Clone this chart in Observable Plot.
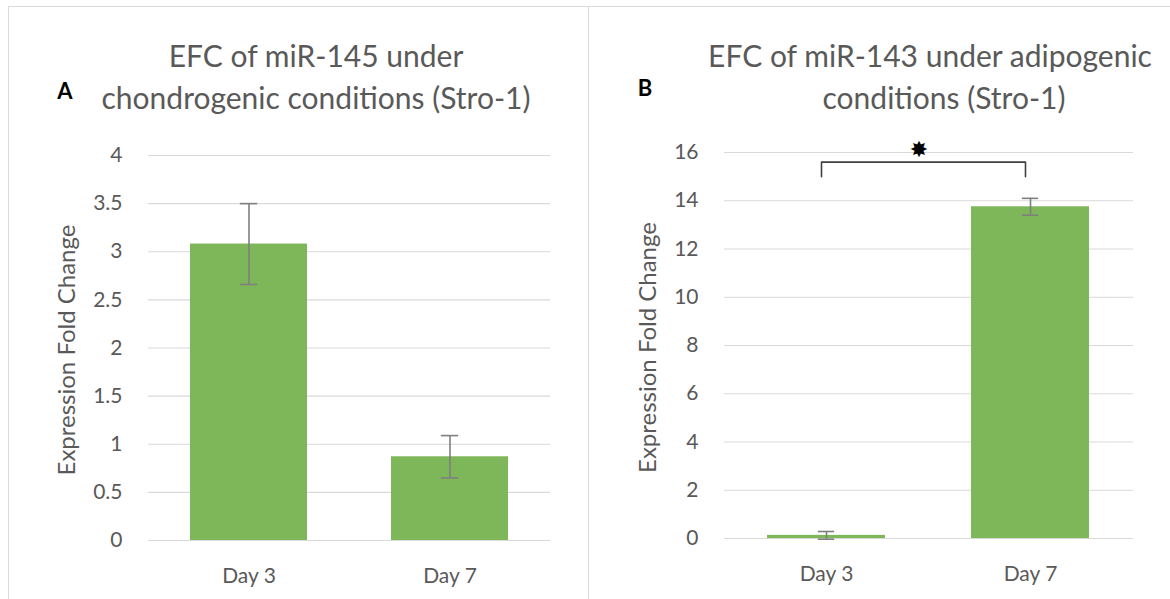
<!DOCTYPE html>
<html><head><meta charset="utf-8">
<script src="https://cdn.jsdelivr.net/npm/d3@7"></script>
<script src="https://cdn.jsdelivr.net/npm/@observablehq/plot@0.6"></script>
<style>
body{margin:0;background:#fff;font-family:Lato,sans-serif;}
#wrap{position:relative;width:1170px;height:599px;overflow:hidden;background:#fff;}
.panel{position:absolute;top:6px;border:1px solid #d9d9d9;box-sizing:border-box;}
.title{position:absolute;color:#595959;font-size:30px;line-height:42px;white-space:nowrap;transform:translateX(-50%);}
.letter{position:absolute;font-weight:bold;font-size:22px;line-height:26px;color:#000;transform:translateX(-50%);}
.chart{position:absolute;top:120px;}
</style></head>
<body><div id="wrap">
<div class="panel" style="left:8px;width:581px;height:620px"></div>
<div class="panel" style="left:588px;width:600px;height:620px"></div>
<div class="title" style="left:316px;top:34px">EFC of miR-145 under</div>
<div class="title" style="left:316px;top:76px">chondrogenic conditions (Stro-1)</div>
<div class="letter" style="left:65px;top:78px">A</div>
<div class="title" style="left:930px;top:34px">EFC of miR-143 under adipogenic</div>
<div class="title" style="left:944px;top:76px">conditions (Stro-1)</div>
<div class="letter" style="left:645px;top:75px">B</div>
<div class="chart" id="chartA" style="left:8px"></div>
<div class="chart" id="chartB" style="left:588px"></div>
</div>
<script>
const days = ["Day 3", "Day 7"];
const valuesA = [3.08, 0.87];
const errorsA = [0.42, 0.22];
const ticksA = [0, 0.5, 1, 1.5, 2, 2.5, 3, 3.5, 4];
const valuesB = [0.13, 13.75];
const errorsB = [0.16, 0.35];
const ticksB = [0, 2, 4, 6, 8, 10, 12, 14, 16];
const bracketLevel = 15.6;
const bracketTickEnd = 15.0;
const starLevel = 16.1;
const yLabel = "Expression Fold Change";

const barColor = "#7eb75a";
const errColor = "#7f7f7f";

function chart(o) {
  const data = days.map((d, i) => ({day: d, v: o.values[i], lo: o.values[i] - o.errors[i], hi: o.values[i] + o.errors[i]}));
  const pad = 0.42;
  const bw = (o.width - o.ml - o.mr) / days.length * (1 - pad);
  const capInset = (bw - 17) / 2;
  const marks = [
    Plot.gridY(o.ticks, {stroke: "#d9d9d9", strokeOpacity: 1, strokeWidth: 1.2}),
    Plot.barY(data, {x: "day", y: "v", fill: barColor}),
    Plot.ruleX(data, {x: "day", y1: "lo", y2: "hi", stroke: errColor, strokeWidth: 1.6}),
    Plot.tickY(data, {x: "day", y: "hi", stroke: errColor, strokeWidth: 1.6, insetLeft: capInset, insetRight: capInset}),
    Plot.tickY(data, {x: "day", y: "lo", stroke: errColor, strokeWidth: 1.6, insetLeft: capInset, insetRight: capInset}),
    Plot.text([yLabel], {frameAnchor: "left", textAnchor: "middle", rotate: -90, dx: o.labelDx, dy: o.labelDy, text: d => d, fill: "#595959", fontSize: 24})
  ];
  if (o.extra) marks.push(...o.extra);
  return Plot.plot({
    width: o.width, height: o.height,
    marginTop: o.mt, marginBottom: o.mb, marginLeft: o.ml, marginRight: o.mr,
    style: {fontFamily: "Lato, sans-serif", fontSize: "21px", color: "#595959", background: "transparent", overflow: "visible"},
    x: {domain: days, paddingInner: pad, paddingOuter: pad / 2, label: null, tickSize: 0, tickPadding: 28},
    y: {domain: [0, o.ticks[o.ticks.length - 1]], ticks: o.ticks, tickFormat: d => String(d), label: null, tickSize: 0, tickPadding: 26},
    marks
  });
}

document.getElementById("chartA").append(chart({
  values: valuesA, errors: errorsA, ticks: ticksA,
  width: 580, height: 478, mt: 35, mb: 58, ml: 140, mr: 38,
  labelDx: -81, labelDy: 2
}));

const bracket = [
  {day: "Day 3", y: bracketTickEnd},
  {day: "Day 3", y: bracketLevel},
  {day: "Day 7", y: bracketLevel},
  {day: "Day 7", y: bracketTickEnd}
];

document.getElementById("chartB").append(chart({
  values: valuesB, errors: errorsB, ticks: ticksB,
  width: 582, height: 478, mt: 32, mb: 60, ml: 136, mr: 37,
  labelDx: -76, labelDy: 2,
  extra: [
    Plot.line(bracket, {x: "day", y: "y", stroke: "#404040", strokeWidth: 1.6, dx: -5}),
    Plot.text([starLevel], {y: d => d, text: () => "✸", fill: "#000", fontSize: 22, dx: -10, fontFamily: "DejaVu Sans"})
  ]
}));
</script>
</body></html>
